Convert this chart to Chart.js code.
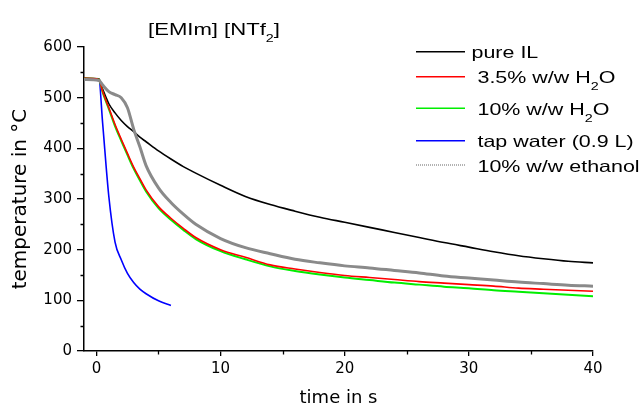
<!DOCTYPE html>
<html>
<head>
<meta charset="utf-8">
<script src="https://cdn.jsdelivr.net/npm/chart.js@4.4.1/dist/chart.umd.min.js"></script>
<style>
  html, body { margin: 0; padding: 0; background: #fff; }
  canvas { display: block; }
</style>
</head>
<body>
<canvas id="cooling-chart" width="643" height="408"></canvas>
<script>
// DATA ------------------------------------------------------

// time in s, shared by all curves
const times = [-1, 0.2, 0.5, 1, 1.5, 2, 2.5, 3, 3.5, 4, 5, 6, 7, 8, 10, 12, 14, 16, 18, 20, 22, 24, 26, 28, 30, 32, 34, 36, 38, 40];

// temperature in °C
const pureIL    = [538, 537, 517, 488, 470, 455, 443, 433, 422, 413, 395, 379, 364, 351, 327, 305, 289, 276, 264, 254, 244, 234, 224, 214, 205, 196, 188, 182, 177, 174];
const water35   = [538, 536, 512, 480, 447, 418, 390, 363, 340, 318, 285, 262, 242, 224, 200, 185, 170, 162, 155, 149, 145, 141, 137, 134, 131, 128, 124, 122, 120, 118];
const water10   = [538, 536, 511, 478, 444, 415, 387, 360, 337, 315, 282, 259, 239, 221, 197, 181, 167, 158, 151, 145, 140, 135, 131, 127, 124, 120, 117, 114, 111, 108];
const tapWater  = [537, 536, 450, 305, 215, 180, 153, 135, 122, 113, 99, 90, null, null, null, null, null, null, null, null, null, null, null, null, null, null, null, null, null, null];
const ethanol10 = [536, 534, 525, 512, 506, 500, 480, 438, 403, 366, 322, 293, 270, 250, 222, 204, 192, 181, 174, 168, 164, 159, 154, 148, 144, 140, 136, 133, 130, 128];

const seriesLabels = ["pure IL", " 3.5% w/w H_2O", " 10% w/w H_2O", " tap water (0.9 L)", " 10% w/w ethanol"];
const chartTitle = "[EMIm] [NTf_2]";

const xTicks = [0, 10, 20, 30, 40];
const xMinor = [5, 15, 25, 35];
const yTicks = [0, 100, 200, 300, 400, 500, 600];
const yMinor = [50, 150, 250, 350, 450, 550];

// HELPERS ------------------------------------------------------

const toPoints = values => times
    .map((t, i) => ({ x: t, y: values[i] }))
    .filter(p => p.y !== null);

const plainLabel = s => s.trim().replace(/_(\d)/g, (m, d) => String.fromCharCode(0x2080 + Number(d)));

// the original fonts are drawn wide, so text gets a horizontal stretch
const STRETCH = 1.3;
const FONT = '"Liberation Sans", Arial, sans-serif';

function drawRich(ctx, text, x, y, size) {
    ctx.save();
    ctx.translate(x, y);
    ctx.scale(STRETCH, 1);
    ctx.fillStyle = '#000';
    ctx.textAlign = 'left';
    ctx.textBaseline = 'alphabetic';
    let cx = 0;
    text.split(/(_\d)/).forEach(part => {
        if (!part) return;
        if (part[0] === '_') {
            ctx.font = Math.round(size * 0.65) + 'px ' + FONT;
            ctx.fillText(part.slice(1), cx, size * 0.42);
            cx += ctx.measureText(part.slice(1)).width;
        } else {
            ctx.font = size + 'px ' + FONT;
            ctx.fillText(part, cx, 0);
            cx += ctx.measureText(part).width;
        }
    });
    ctx.restore();
}

// DATASETS ------------------------------------------------------

const lineStyles = [
    { color: '#000000', width: 1.6, order: 3 },
    { color: '#ff0000', width: 1.6, order: 1 },
    { color: '#00ee00', width: 2.0, order: 2 },
    { color: '#0000ff', width: 1.6, order: 4 },
    { color: '#8a8a8a', width: 3.0, order: 0 }
];

const allValues = [pureIL, water35, water10, tapWater, ethanol10];

const datasets = allValues.map((values, i) => ({
    label: plainLabel(seriesLabels[i]),
    data: toPoints(values),
    borderColor: lineStyles[i].color,
    borderWidth: lineStyles[i].width,
    order: lineStyles[i].order,
    pointRadius: 0,
    fill: false,
    cubicInterpolationMode: 'monotone'
}));

// PLUGINS ------------------------------------------------------

const legendRows = [51.7, 76.7, 108.3, 140.7, 165];

const decorations = {
    id: 'decorations',
    afterDraw(chart) {
        const ctx = chart.ctx;
        const xs = chart.scales.x;
        const ys = chart.scales.y;

        // minor ticks
        ctx.save();
        ctx.strokeStyle = '#000';
        ctx.lineWidth = 1.3;
        ctx.beginPath();
        xMinor.forEach(v => {
            const px = Math.round(xs.getPixelForValue(v)) + 0.5;
            ctx.moveTo(px, xs.top);
            ctx.lineTo(px, xs.top + 3.5);
        });
        yMinor.forEach(v => {
            const py = Math.round(ys.getPixelForValue(v)) + 0.5;
            ctx.moveTo(ys.right - 3.5, py);
            ctx.lineTo(ys.right, py);
        });
        ctx.stroke();
        ctx.restore();

        // title
        drawRich(ctx, chartTitle, 148, 35, 17);

        // legend
        seriesLabels.forEach((label, i) => {
            const y = legendRows[i];
            ctx.save();
            ctx.beginPath();
            ctx.strokeStyle = i === 4 ? '#666' : lineStyles[i].color;
            ctx.lineWidth = i === 4 ? 1 : 1.5;
            if (i === 4) ctx.setLineDash([1, 1]);
            ctx.moveTo(416, y);
            ctx.lineTo(465, y);
            ctx.stroke();
            ctx.restore();
            drawRich(ctx, label, 471.5, y + 6.5, 16.5);
        });
    }
};

// CHART ------------------------------------------------------

const tickFont = { family: '"DejaVu Sans"', size: 15 };

new Chart(document.getElementById('cooling-chart'), {
    type: 'line',
    data: { datasets: datasets },
    options: {
        responsive: false,
        animation: false,
        devicePixelRatio: 1,
        layout: { padding: { top: 47, right: 50, bottom: 0, left: 0 } },
        plugins: {
            legend: { display: false },
            tooltip: { enabled: false }
        },
        scales: {
            x: {
                type: 'linear',
                position: 'bottom',
                min: -1,
                max: 40,
                afterBuildTicks: scale => { scale.ticks = xTicks.map(v => ({ value: v })); },
                afterFit: scale => { scale.height = 57; },
                ticks: { color: '#000', font: tickFont, padding: 4, maxRotation: 0 },
                grid: { drawOnChartArea: false, drawTicks: true, tickLength: 5, color: '#000', lineWidth: 1.3 },
                border: { display: true, color: '#000', width: 1.5 },
                title: {
                    display: true,
                    text: 'time in s',
                    color: '#000',
                    font: { family: '"DejaVu Sans"', size: 18 },
                    padding: { top: 0, bottom: -1 }
                }
            },
            y: {
                type: 'linear',
                min: 0,
                max: 600,
                afterBuildTicks: scale => { scale.ticks = yTicks.map(v => ({ value: v })); },
                afterFit: scale => { scale.width = 84; },
                ticks: { color: '#000', font: tickFont, padding: 5 },
                grid: { drawOnChartArea: false, drawTicks: true, tickLength: 7, color: '#000', lineWidth: 1.3 },
                border: { display: true, color: '#000', width: 1.5 },
                title: {
                    display: true,
                    text: 'temperature in °C',
                    color: '#000',
                    font: { family: '"DejaVu Sans"', size: 20 },
                    padding: { top: 9, bottom: 0 }
                }
            }
        }
    },
    plugins: [decorations]
});
</script>
</body>
</html>
